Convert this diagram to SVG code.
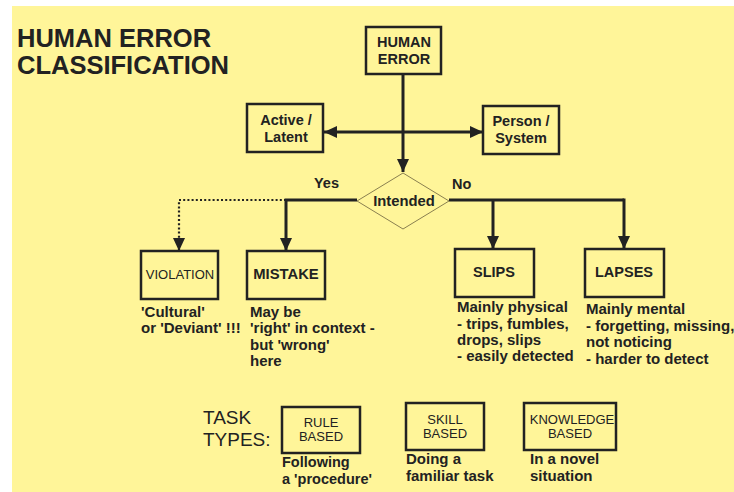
<svg xmlns="http://www.w3.org/2000/svg" width="734" height="492" viewBox="0 0 734 492">
<defs>
<style>
.bg{fill:#fff599}
.box{fill:#fff599;stroke:#222;stroke-width:2.5}
.dia{fill:#fff599;stroke:#8a8050;stroke-width:1}
.ln{fill:none;stroke:#222;stroke-width:3}
.dot{fill:none;stroke:#222;stroke-width:2.2;stroke-dasharray:2 2.2}
text{font-family:"Liberation Sans",Arial,sans-serif;fill:#222}
.t{font-size:25.5px;font-weight:bold}
.bl{font-size:14.5px;font-weight:bold;text-anchor:middle}
.rl{font-size:13px;text-anchor:middle}
.d{font-size:15px;font-weight:bold}
.ds{font-size:14.5px;font-weight:bold}
.tt{font-size:19px}
</style>
<marker id="ah" markerUnits="userSpaceOnUse" markerWidth="14" markerHeight="14" viewBox="0 0 14 14" refX="13" refY="7" orient="auto-start-reverse">
<path d="M0,1 L13,7 L0,13 Z" fill="#222"/>
</marker>
</defs>
<rect x="0" y="0" width="734" height="492" fill="#ffffff"/>
<rect class="bg" x="12" y="6" width="722" height="486"/>
<g id="title">
<text class="t" x="17" y="47">HUMAN ERROR</text>
<text class="t" x="17" y="74">CLASSIFICATION</text>
</g>
<g id="connectors">
<line class="ln" x1="403" y1="74" x2="403" y2="172" marker-end="url(#ah)"/>
<line class="ln" x1="324" y1="132" x2="483" y2="132" marker-start="url(#ah)" marker-end="url(#ah)"/>
<polyline class="ln" points="357,200 286,200 286,251" marker-end="url(#ah)"/>
<polyline class="dot" points="286,200 179,200 179,251" marker-end="url(#ah)"/>
<line class="ln" x1="449" y1="200" x2="624" y2="200"/>
<line class="ln" x1="493" y1="200" x2="493" y2="249" marker-end="url(#ah)"/>
<line class="ln" x1="624" y1="198.5" x2="624" y2="249" marker-end="url(#ah)"/>
<text class="ds" x="314" y="188">Yes</text>
<text class="ds" x="452" y="189">No</text>
</g>
<g id="human-error">
<rect class="box" x="366" y="27" width="75" height="47"/>
<text class="bl" x="404" y="47">HUMAN</text>
<text class="bl" x="404" y="64">ERROR</text>
</g>
<g id="active-latent">
<rect class="box" x="247" y="104" width="76" height="48"/>
<text class="bl" x="286" y="125">Active /</text>
<text class="bl" x="286" y="142">Latent</text>
</g>
<g id="person-system">
<rect class="box" x="483" y="106" width="76" height="48"/>
<text class="bl" x="521" y="126">Person /</text>
<text class="bl" x="521" y="143">System</text>
</g>
<g id="intended">
<polygon class="dia" points="403,173 449,201 403,229 357,201"/>
<text class="bl" x="404" y="206" style="font-size:14.8px">Intended</text>
</g>
<g id="violation">
<rect class="box" x="141" y="251" width="77" height="48"/>
<text class="rl" x="180" y="279">VIOLATION</text>
<text class="d" x="141" y="317">'Cultural'</text>
<text class="d" x="141" y="333">or 'Deviant' !!!</text>
</g>
<g id="mistake">
<rect class="box" x="247" y="251" width="78" height="48"/>
<text class="bl" x="286" y="279" style="font-size:14.8px">MISTAKE</text>
<text class="d" x="250" y="317">May be</text>
<text class="d" x="250" y="333">'right' in context -</text>
<text class="d" x="250" y="350">but 'wrong'</text>
<text class="d" x="250" y="366">here</text>
</g>
<g id="slips">
<rect class="box" x="455" y="249" width="79" height="48"/>
<text class="bl" x="494" y="277">SLIPS</text>
<text class="d" x="457" y="312">Mainly physical</text>
<text class="d" x="457" y="329">- trips, fumbles,</text>
<text class="d" x="457" y="345">drops, slips</text>
<text class="d" x="457" y="361">- easily detected</text>
</g>
<g id="lapses">
<rect class="box" x="585" y="249" width="79" height="48"/>
<text class="bl" x="624" y="277">LAPSES</text>
<text class="d" x="586" y="314">Mainly mental</text>
<text class="d" x="586" y="331">- forgetting, missing,</text>
<text class="d" x="586" y="347">not noticing</text>
<text class="d" x="586" y="364">- harder to detect</text>
</g>
<g id="task-types">
<text class="tt" x="203" y="424">TASK</text>
<text class="tt" x="203" y="446">TYPES:</text>
</g>
<g id="rule-based">
<rect class="box" x="282" y="407" width="78" height="46"/>
<text class="rl" x="321" y="427">RULE</text>
<text class="rl" x="321" y="441">BASED</text>
<text class="ds" x="282" y="467">Following</text>
<text class="ds" x="282" y="484">a 'procedure'</text>
</g>
<g id="skill-based">
<rect class="box" x="406" y="403" width="78" height="47"/>
<text class="rl" x="445" y="424">SKILL</text>
<text class="rl" x="445" y="438">BASED</text>
<text class="d" x="406" y="464">Doing a</text>
<text class="d" x="406" y="481">familiar task</text>
</g>
<g id="knowledge-based">
<rect class="box" x="524" y="403" width="92" height="47"/>
<text class="rl" x="572" y="424">KNOWLEDGE</text>
<text class="rl" x="570" y="438">BASED</text>
<text class="d" x="530" y="464">In a novel</text>
<text class="d" x="530" y="481">situation</text>
</g>
</svg>
